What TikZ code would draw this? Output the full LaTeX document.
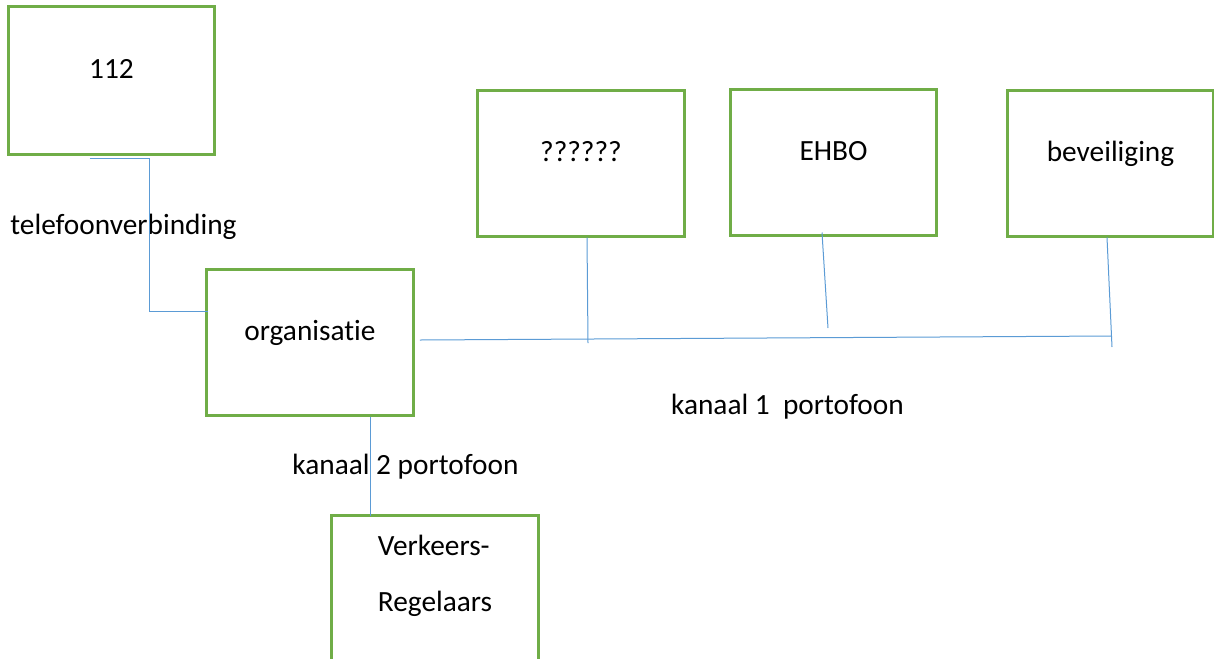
\documentclass[tikz,border=0pt]{standalone}
\usepackage{fontspec}
\setmainfont{Carlito}[Ligatures=NoCommon]

\definecolor{boxgreen}{RGB}{112,173,71}
\definecolor{wireblue}{RGB}{91,155,213}

\begin{document}
\begin{tikzpicture}[x=0.75pt, y=-0.75pt,
	font=\fontsize{22}{26}\selectfont,
	box/.style={draw=boxgreen, line width=2.25pt, minimum width=155pt, minimum height=109.5pt, inner sep=0pt, text height=12pt, text depth=15pt},
	wire/.style={draw=wireblue, line width=0.75pt}]

\useasboundingbox (0,0) rectangle (1214,658);



\node[box, minimum height=111pt] (n112) at (111.5,80) {112};
\node[box] (org) at (310,342) {organisatie};


\node[box] (unknown) at (581,163) {??????};
\node[box] (ehbo) at (833.5,162) {EHBO};
\node[box] (beveiliging) at (1110.5,163) {beveiliging};


\node[box, align=left, font=\fontsize{22}{42}\selectfont, text height=50pt, text depth=15.5pt] (verkeer) at (435,588) {Verkeers-\\Regelaars};




\node (telefoon) at (123.5,227) {telefoonverbinding};
\node (kanaal1) at (787.5,407) {kanaal 1\ \ portofoon};
\node (kanaal2) at (405.5,467) {kanaal 2 portofoon};




\draw[wire] ([shift={(-22,3)}]n112.south) -- ++(60,0) |- ([shift={(3,-31)}]org.west);


\coordinate (busend) at (1111,336);
\draw[wire] ([shift={(5,-2)}]org.east) -- (busend);


\coordinate (tapunknown) at (588,343);
\coordinate (tapehbo) at (828,328);
\coordinate (tapbeveiliging) at (1112,347);

\draw[wire] ([shift={(6,0)}]unknown.south) -- (tapunknown);
\draw[wire] ([shift={(-11.5,-4)}]ehbo.south) -- (tapehbo);
\draw[wire] ([shift={(-3.5,0)}]beveiliging.south) -- (tapbeveiliging);


\draw[wire] ([shift={(60,0)}]org.south) -- ([shift={(-65,2)}]verkeer.north);



\end{tikzpicture}
\end{document}
